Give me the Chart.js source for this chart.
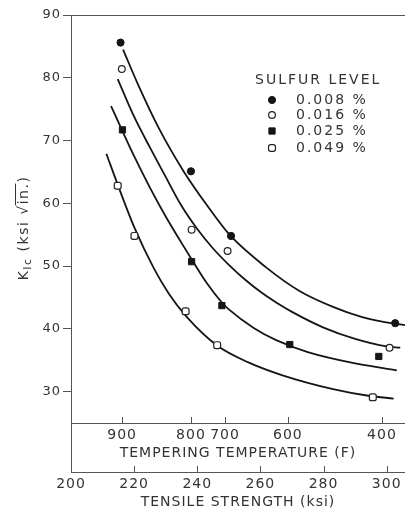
<!DOCTYPE html>
<html>
<head>
<meta charset="utf-8">
<script src="https://cdn.jsdelivr.net/npm/chart.js@4.4.1/dist/chart.umd.min.js"></script>
<style>
  html, body { margin: 0; padding: 0; background: #fff; }
  #wrap { width: 405px; height: 517px; }
</style>
</head>
<body>
<div id="wrap"><canvas id="kic-chart" width="405" height="517"></canvas></div>
<script>
// legend labels
const sulfurLevels = ['0.008 %', '0.016 %', '0.025 %', '0.049 %'];

// measured points : tensile strength (ksi) -> K_Ic (ksi sqrt in.)
const s008Strength = [215.7, 238.0, 250.7, 302.7];
const s008K        = [85.6, 65.1, 54.8, 40.9];
const s016Strength = [216.1, 238.2, 249.6, 300.9];
const s016K        = [81.4, 55.8, 52.4, 37.0];
const s025Strength = [216.3, 238.2, 247.8, 269.3, 297.5];
const s025K        = [71.7, 50.7, 43.7, 37.5, 35.6];
const s049Strength = [214.8, 220.1, 236.3, 246.3, 295.6];
const s049K        = [62.8, 54.8, 42.8, 37.4, 29.1];

// faired curves
const fit008Strength = [216.5, 221, 227.9, 235.8, 243.2, 250.2, 261.8, 272.5, 283, 292, 299, 305.8];
const fit008K        = [84.5, 79.2, 71.9, 65.0, 59.6, 55.0, 49.8, 46.0, 43.5, 41.9, 41.1, 40.6];
const fit016Strength = [214.8, 220, 225, 230, 235, 240, 245, 250, 255, 260, 265, 270, 280, 290, 300, 304.3];
const fit016K        = [79.8, 73.8, 68.9, 64.2, 59.6, 55.9, 52.8, 50.2, 47.9, 45.9, 44.2, 42.7, 40.2, 38.4, 37.2, 37.0];
const fit025Strength = [212.7, 216.3, 220, 225, 230, 235, 238.2, 243, 247.8, 250, 258, 265, 275, 290, 303.2];
const fit025K        = [75.5, 71.5, 67.5, 62.5, 57.9, 53.7, 51.1, 47.3, 44.2, 43.1, 40.1, 38.2, 36.3, 34.5, 33.4];
const fit049Strength = [211.2, 215, 220.2, 226.3, 231, 236.5, 246.4, 256, 267, 283, 294.7, 302.2];
const fit049K        = [67.9, 62.7, 56.0, 49.6, 45.6, 42.0, 37.3, 34.7, 32.6, 30.4, 29.3, 28.9];

// axes
const kicTicks = [30, 40, 50, 60, 70, 80, 90];
const strengthTicks = [200, 220, 240, 260, 280, 300];
const temperLabels = [900, 800, 700, 600, 400];
const temperAtStrength = [216.2, 238.0, 248.8, 268.7, 298.5];

const ink = '#151515';
const textCol = '#333';
const axisCol = '#555';
const FONT = '"DejaVu Sans", sans-serif';

const toXY = (xs, ys) => xs.map((x, i) => ({ x: x, y: ys[i] }));

const curve = (xs, ys) => ({
    data: toXY(xs, ys),
    showLine: true,
    borderColor: ink,
    borderWidth: 1.8,
    pointRadius: 0,
    cubicInterpolationMode: 'monotone',
    order: 2
});

const markerStyles = [
    { pointStyle: 'circle', pointRadius: 3.6, pointBackgroundColor: ink, pointBorderColor: ink, pointBorderWidth: 1 },
    { pointStyle: 'circle', pointRadius: 3.4, pointBackgroundColor: '#fff', pointBorderColor: '#222', pointBorderWidth: 1.2 },
    { pointStyle: 'rect', pointRadius: 4.4, pointBackgroundColor: ink, pointBorderColor: ink, pointBorderWidth: 1 },
    { pointStyle: 'rectRounded', pointRadius: 4.0, pointBackgroundColor: '#fff', pointBorderColor: '#222', pointBorderWidth: 1.2 }
];

const pointSets = [
    toXY(s008Strength, s008K),
    toXY(s016Strength, s016K),
    toXY(s025Strength, s025K),
    toXY(s049Strength, s049K)
].map((data, i) => Object.assign({ label: sulfurLevels[i], data: data, showLine: false, order: 1 }, markerStyles[i]));

// no side padding on the bottom axes, the frame runs to the right edge
const fitBottom = h => s => { s.height = h; s.paddingLeft = 0; s.paddingRight = 0; };

// frame, inward ticks, legend and y title
const decorPlugin = {
    id: 'decor',
    beforeDraw(chart) {
        chart.ctx.letterSpacing = '1px';
    },
    afterDraw(chart) {
        const { ctx, chartArea: area, scales } = chart;
        const xs = scales.x, xt = scales.xTemper;
        ctx.save();
        ctx.strokeStyle = axisCol;
        ctx.lineWidth = 1;
        ctx.beginPath();
        ctx.moveTo(area.left, area.top + 0.5);
        ctx.lineTo(chart.width, area.top + 0.5);
        ctx.moveTo(area.left + 0.5, area.bottom);
        ctx.lineTo(area.left + 0.5, xs.top);
        xt.ticks.forEach(t => {
            const px = Math.round(xt.getPixelForValue(t.value)) + 0.5;
            ctx.moveTo(px, area.bottom);
            ctx.lineTo(px, area.bottom - 6);
        });
        xs.ticks.forEach(t => {
            if (t.value === xs.min) return;
            const px = Math.round(xs.getPixelForValue(t.value)) + 0.5;
            ctx.moveTo(px, xs.top);
            ctx.lineTo(px, xs.top - 6);
        });
        ctx.stroke();

        // legend
        ctx.fillStyle = textCol;
        ctx.font = '14px ' + FONT;
        ctx.letterSpacing = '2px';
        ctx.textBaseline = 'middle';
        ctx.textAlign = 'left';
        ctx.fillText('SULFUR LEVEL', 255, 80);
        const rows = [100, 115, 131, 148];
        pointSets.forEach((ds, i) => {
            ctx.fillStyle = ds.pointBackgroundColor;
            ctx.strokeStyle = ds.pointBorderColor;
            ctx.lineWidth = ds.pointBorderWidth;
            Chart.helpers.drawPoint(ctx, {
                pointStyle: ds.pointStyle, rotation: 0,
                radius: ds.pointRadius, borderWidth: ds.pointBorderWidth
            }, 272, rows[i]);
            ctx.fillStyle = textCol;
            ctx.fillText(sulfurLevels[i], 296, rows[i]);
        });

        // y axis title: K_Ic (ksi sqrt in.)
        ctx.translate(24, (area.top + area.bottom) / 2 + 9);
        ctx.rotate(-Math.PI / 2);
        ctx.letterSpacing = '1.5px';
        const big = '14px ' + FONT, small = '11px ' + FONT;
        const parts = [['K', big, 0], ['Ic', small, 4], [' (ksi ', big, 0], ['\u221A', big, 0], ['in.', big, 0], [')', big, 0]];
        let total = 0;
        parts.forEach(p => { ctx.font = p[1]; p.push(ctx.measureText(p[0]).width); total += p[3]; });
        let x = -total / 2;
        ctx.fillStyle = textCol;
        ctx.strokeStyle = textCol;
        ctx.lineWidth = 1;
        parts.forEach(p => {
            ctx.font = p[1];
            ctx.fillText(p[0], x, p[2]);
            if (p[0] === 'in.') {
                ctx.beginPath();
                ctx.moveTo(x - 1, -8.5);
                ctx.lineTo(x + p[3] - 1, -8.5);
                ctx.stroke();
            }
            x += p[3];
        });
        ctx.restore();
    }
};

new Chart(document.getElementById('kic-chart'), {
    type: 'scatter',
    data: {
        datasets: [
            curve(fit008Strength, fit008K),
            curve(fit016Strength, fit016K),
            curve(fit025Strength, fit025K),
            curve(fit049Strength, fit049K)
        ].concat(pointSets)
    },
    options: {
        responsive: false,
        animation: false,
        devicePixelRatio: 1,
        layout: { autoPadding: false, padding: { top: 15, right: 0, left: 0, bottom: 0 } },
        plugins: { legend: { display: false }, tooltip: { enabled: false } },
        scales: {
            y: {
                type: 'linear', min: 25, max: 90,
                afterBuildTicks: s => { s.ticks = kicTicks.map(v => ({ value: v })); },
                afterFit: s => { s.width = 71; },
                ticks: { autoSkip: false, color: textCol, padding: 2, font: { family: FONT, size: 13 } },
                grid: { drawOnChartArea: false, tickLength: 8, color: axisCol },
                border: { color: axisCol }
            },
            xTemper: {
                type: 'linear', position: 'bottom', weight: 0, min: 200, max: 305.8,
                afterBuildTicks: s => { s.ticks = temperAtStrength.map(v => ({ value: v })); },
                afterFit: fitBottom(49),
                ticks: {
                    autoSkip: false, maxRotation: 0, color: textCol, padding: 4,
                    font: { family: FONT, size: 14 },
                    callback: (v, i) => temperLabels[i]
                },
                grid: { display: false, drawTicks: false },
                border: { display: true, color: axisCol },
                title: {
                    display: true, text: 'TEMPERING TEMPERATURE (F)', color: textCol,
                    font: { family: FONT, size: 14 }, padding: { top: 0, bottom: 10.5 }
                }
            },
            x: {
                type: 'linear', position: 'bottom', weight: 1, min: 200, max: 305.8,
                afterBuildTicks: s => { s.ticks = strengthTicks.map(v => ({ value: v })); },
                afterFit: fitBottom(45),
                ticks: { autoSkip: false, maxRotation: 0, color: textCol, padding: 4, font: { family: FONT, size: 14 } },
                grid: { display: false, drawTicks: false },
                border: { display: true, color: axisCol },
                title: {
                    display: true, text: 'TENSILE STRENGTH (ksi)', color: textCol,
                    font: { family: FONT, size: 14 }, padding: { top: 0, bottom: 6.5 }
                }
            }
        }
    },
    plugins: [decorPlugin]
});
</script>
</body>
</html>
